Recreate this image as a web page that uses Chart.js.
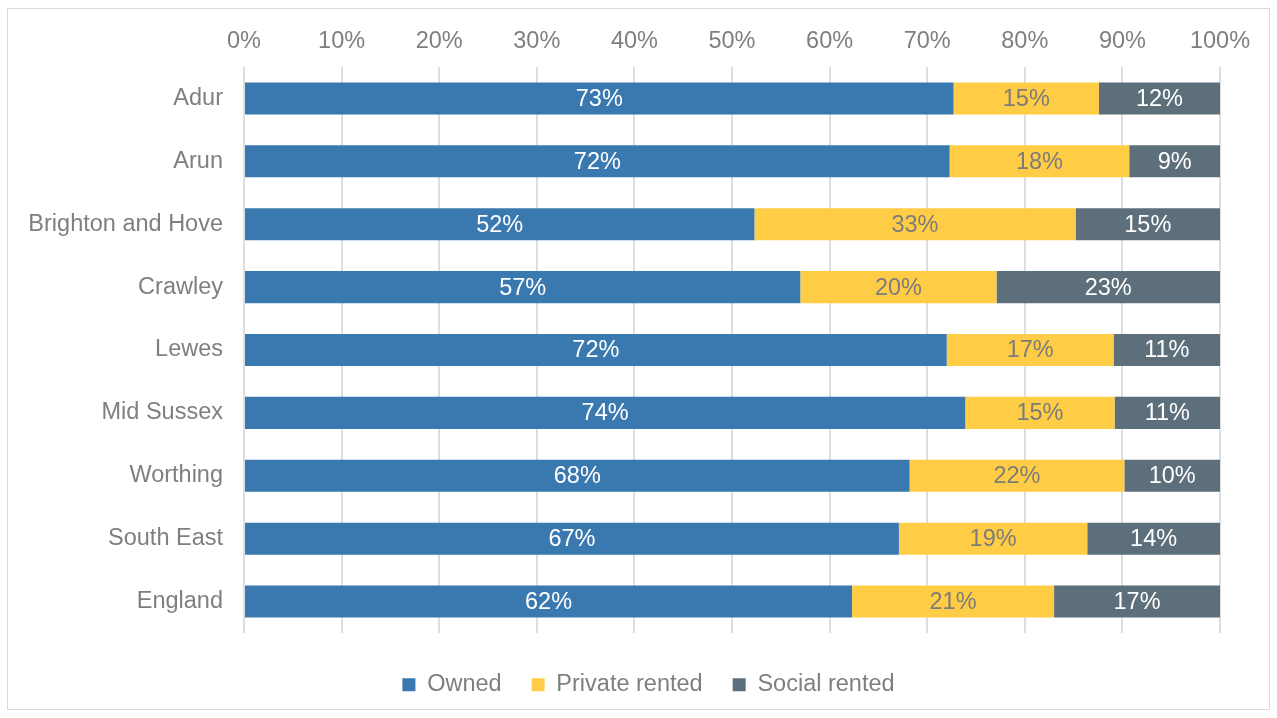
<!DOCTYPE html>
<html lang="en">
<head>
    <meta charset="UTF-8">
    <title>Tenure</title>
    <script src="https://cdn.jsdelivr.net/npm/chart.js"></script>
    <style>
        body { margin: 0; background: #fff; }
    </style>
</head>
<body>
    <canvas id="tenureChart" width="1277" height="718"></canvas>

    <script>
        // data (percent of households)
        const areas = ['Adur', 'Arun', 'Brighton and Hove', 'Crawley', 'Lewes', 'Mid Sussex', 'Worthing', 'South East', 'England'];
        const owned = [72.7, 72.3, 52.3, 57.0, 72.0, 73.9, 68.2, 67.1, 62.3];
        const privateRented = [14.9, 18.4, 32.9, 20.1, 17.1, 15.3, 22.0, 19.3, 20.7];
        const socialRented = [12.4, 9.3, 14.8, 22.9, 10.9, 10.8, 9.8, 13.6, 17.0];
        const xTicks = [0, 10, 20, 30, 40, 50, 60, 70, 80, 90, 100];

        const grey = '#7f7f7f';
        const fontFamily = '"Liberation Sans", Arial, sans-serif';
        Chart.defaults.font.family = fontFamily;
        Chart.defaults.font.size = 23.5;
        Chart.defaults.color = grey;

        // outer frame like the original
        const framePlugin = {
            id: 'frame',
            beforeDraw(chart) {
                const c = chart.ctx;
                c.save();
                c.fillStyle = '#fff';
                c.fillRect(0, 0, chart.width, chart.height);
                c.strokeStyle = '#d9d9d9';
                c.lineWidth = 1;
                c.strokeRect(7.5, 8.5, 1262, 701);
                c.restore();
            }
        };

        // value labels in the middle of every segment
        const labelColors = ['#ffffff', '#7b7b7b', '#ffffff'];
        const labelPlugin = {
            id: 'segLabels',
            afterDatasetsDraw(chart) {
                const c = chart.ctx;
                c.save();
                c.font = '23.5px ' + fontFamily;
                c.textAlign = 'center';
                c.textBaseline = 'middle';
                chart.data.datasets.forEach((ds, i) => {
                    const meta = chart.getDatasetMeta(i);
                    c.fillStyle = labelColors[i];
                    meta.data.forEach((bar, j) => {
                        const txt = Math.round(ds.data[j]) + '%';
                        c.fillText(txt, (bar.x + bar.base) / 2, bar.y + 1);
                    });
                });
                c.restore();
            }
        };

        const ctx = document.getElementById('tenureChart').getContext('2d');
        new Chart(ctx, {
            type: 'bar',
            data: {
                labels: areas,
                datasets: [
                    { label: 'Owned', data: owned, backgroundColor: '#3a79af' },
                    { label: 'Private rented', data: privateRented, backgroundColor: '#ffcd45' },
                    { label: 'Social rented', data: socialRented, backgroundColor: '#5c6f7b' }
                ]
            },
            options: {
                indexAxis: 'y',
                responsive: false,
                animation: false,
                barPercentage: 0.51,
                categoryPercentage: 1,
                layout: { padding: { left: 20, right: 0, top: 0, bottom: 11.5 } },
                scales: {
                    x: {
                        position: 'top',
                        stacked: true,
                        min: 0,
                        max: 100,
                        afterBuildTicks(scale) {
                            scale.ticks = xTicks.map(v => ({ value: v }));
                        },
                        ticks: {
                            padding: 11,
                            callback: v => v + '%'
                        },
                        grid: { color: '#dedede', lineWidth: 2, drawTicks: false },
                        border: { display: false },
                        afterFit(scale) {
                            scale.height = 67;
                            scale.paddingRight = 57;
                        }
                    },
                    y: {
                        stacked: true,
                        grid: { display: false, drawTicks: false },
                        border: { display: false },
                        ticks: { padding: 21 },
                        afterFit(scale) {
                            scale.width = 224;
                        }
                    }
                },
                plugins: {
                    tooltip: { enabled: false },
                    legend: {
                        position: 'bottom',
                        title: { display: true, text: '', padding: 0, font: { size: 10, lineHeight: 1 } },
                        labels: {
                            boxWidth: 13,
                            boxHeight: 13,
                            padding: 30,
                            color: grey,
                            font: { size: 23.5 }
                        }
                    }
                }
            },
            plugins: [framePlugin, labelPlugin]
        });
    </script>
</body>
</html>
